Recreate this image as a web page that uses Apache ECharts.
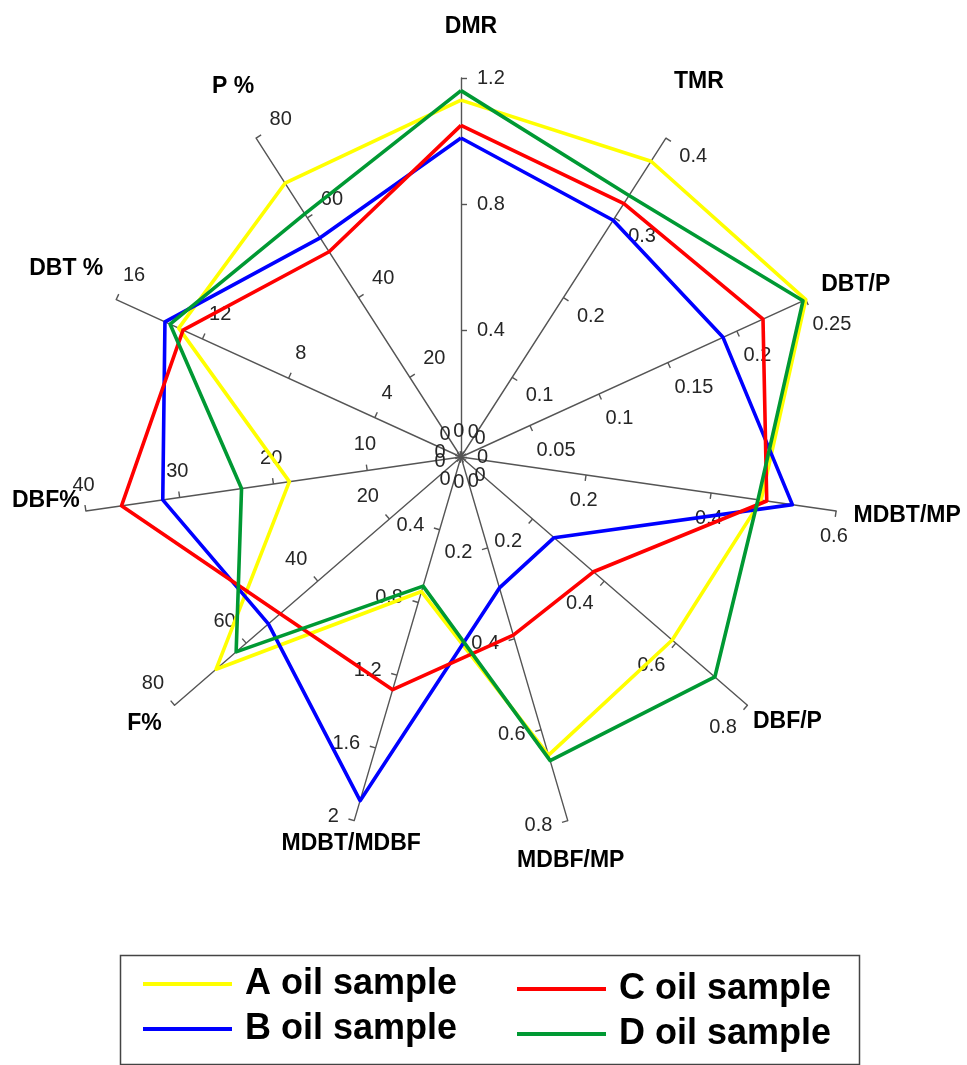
<!DOCTYPE html>
<html>
<head>
<meta charset="utf-8">
<script src="https://cdn.jsdelivr.net/npm/echarts@6/dist/echarts.min.js"></script>
<style>
  html, body { margin: 0; padding: 0; background: #fff; }
  #chart { width: 967px; height: 1065px; }
</style>
</head>
<body>
<div id="chart"></div>
<script>
// Indicator axes, listed clockwise from the top
const axisNames = ['DMR', 'TMR', 'DBT/P', 'MDBT/MP', 'DBF/P', 'MDBF/MP', 'MDBT/MDBF', 'F%', 'DBF%', 'DBT %', 'P %'];
const axisMax = [1.2, 0.4, 0.25, 0.6, 0.8, 0.8, 2, 80, 40, 16, 80];
const axisStep = [0.4, 0.1, 0.05, 0.2, 0.2, 0.2, 0.4, 20, 10, 4, 20];

// Sample values, same clockwise order as axisNames
const sampleNames = ['A oil sample', 'B oil sample', 'C oil sample', 'D oil sample'];
const sampleA = [1.13, 0.371, 0.25, 0.48, 0.59, 0.656, 0.74, 68.4, 18.3, 13.1, 68.7];
const sampleB = [1.01, 0.297, 0.19, 0.53, 0.26, 0.288, 1.89, 53.8, 31.8, 13.74, 55];
const sampleC = [1.05, 0.318, 0.219, 0.489, 0.37, 0.392, 1.28, 50.5, 36.2, 12.9, 51.5];
const sampleD = [1.16, 0.328, 0.248, 0.475, 0.709, 0.668, 0.71, 62.8, 23.4, 13.5, 61];

// ---- layout / style ----
const CX = 461, CY = 457, R = 379;
const N = axisNames.length;
const FONT = '"Liberation Sans", Arial, sans-serif';
const sampleColors = ['#ffff00', '#0000ff', '#ff0000', '#009933'];
// where each axis title sits, relative to the end of its axis (dx, dy in px)
const nameShift = [[10, -51], [33, -57], [50, -15], [71, 5], [40, 16], [3, 40], [-3, 23], [-30, 18], [-40, -10], [-50, -31], [-23, -52]];
const LABEL_MARGIN = 16;

// radar lays indicators out counter-clockwise, so walk the axes in reverse
const radarOrder = [];
for (let k = 0; k < N; k++) radarOrder.push((N - k) % N);
const toRadar = vals => radarOrder.map(i => vals[i]);

const polar = [], angleAxis = [], radiusAxis = [];
for (let i = 0; i < N; i++) {
  const ang = 90 - i * 360 / N;
  // unit vector of the axis on screen, and its clockwise normal
  const ux = Math.cos(ang * Math.PI / 180), uy = -Math.sin(ang * Math.PI / 180);
  const px = -uy, py = ux;
  const [sx, sy] = nameShift[i];
  // slide the title along the axis to its height, then nudge it sideways
  const gap = sy / uy;
  const dx = sx - gap * ux;
  polar.push({ center: [CX, CY], radius: [0, R] });
  angleAxis.push({
    polarIndex: i, type: 'value', min: 0, max: 360,
    startAngle: ang, show: false
  });
  radiusAxis.push({
    polarIndex: i, type: 'value', min: 0, max: axisMax[i], interval: axisStep[i],
    name: axisNames[i], nameLocation: 'end', nameGap: gap, nameMoveOverlap: false,
    nameTextStyle: {
      fontFamily: FONT, fontWeight: 'bold', fontSize: 23, color: '#000',
      align: 'center', verticalAlign: 'middle',
      padding: [0, Math.max(0, -2 * dx), 0, Math.max(0, 2 * dx)]
    },
    axisLine: { show: true, lineStyle: { color: '#555', width: 1.4 } },
    // ticks and labels sit on the clockwise side of each axis
    axisTick: { show: true, length: -6, lineStyle: { color: '#555', width: 1.4 } },
    axisLabel: {
      show: true, fontFamily: FONT, fontSize: 20, color: '#262626',
      margin: -LABEL_MARGIN,
      align: px > 0.35 ? 'left' : (px < -0.35 ? 'right' : 'center'),
      verticalAlign: py > 0.35 ? 'top' : (py < -0.35 ? 'bottom' : 'middle')
    },
    splitLine: { show: false }, splitArea: { show: false }
  });
}

const series = [sampleA, sampleB, sampleC, sampleD].map((vals, s) => ({
  type: 'radar',
  name: sampleNames[s],
  symbol: 'none',
  z: 3 + s,
  lineStyle: { color: sampleColors[s], width: 3.6 },
  itemStyle: { color: sampleColors[s] },
  data: [{ name: sampleNames[s], value: toRadar(vals) }]
}));

const legendText = { fontFamily: FONT, fontWeight: 'bold', fontSize: 36, color: '#000', padding: [0, 0, 0, 8] };

const option = {
  backgroundColor: '#fff',
  animation: false,
  polar, angleAxis, radiusAxis,
  radar: {
    center: [CX, CY], radius: R, startAngle: 90, splitNumber: 1,
    indicator: radarOrder.map(i => ({ name: axisNames[i], min: 0, max: axisMax[i] })),
    axisName: { show: false },
    axisLine: { show: false }, axisTick: { show: false }, axisLabel: { show: false },
    splitLine: { show: false }, splitArea: { show: false }
  },
  legend: [
    { data: [sampleNames[0], sampleNames[1]], orient: 'vertical', left: 143, top: 966,
      itemGap: 9, itemWidth: 89, itemHeight: 4, icon: 'rect', padding: 0, textStyle: legendText },
    { data: [sampleNames[2], sampleNames[3]], orient: 'vertical', left: 517, top: 971,
      itemGap: 9, itemWidth: 89, itemHeight: 4, icon: 'rect', padding: 0, textStyle: legendText }
  ],
  graphic: [{
    type: 'rect', left: 118, top: 953, z: 0,
    shape: { width: 739, height: 109 },
    style: { fill: 'none', stroke: '#444', lineWidth: 1.5 }
  }],
  series
};

const chart = echarts.init(document.getElementById('chart'), null, { renderer: 'canvas' });
chart.setOption(option);
</script>
</body>
</html>
